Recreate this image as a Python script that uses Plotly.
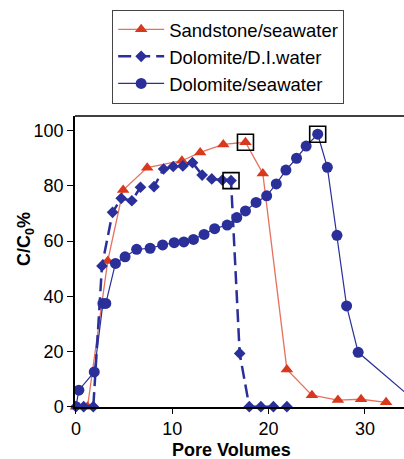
import plotly.graph_objects as go

# Sandstone / seawater
ss_x = [0.0, 1.2, 3.3, 4.9, 7.4, 11.0, 12.9, 15.3, 17.6, 19.4, 21.9, 24.5, 27.2, 29.6, 32.2]
ss_y = [0.0, 0.0, 52.8, 78.5, 86.6, 89.1, 92.1, 95.0, 95.8, 84.5, 13.5, 4.2, 2.4, 2.7, 1.6]

# Dolomite / D.I. water
di_x = [0.0, 0.8, 1.8, 2.7, 3.8, 4.7, 5.8, 6.7, 8.1, 9.1, 10.1, 11.1, 12.1, 13.1, 14.1, 15.2, 16.1,
        17.0, 18.0, 19.2, 20.5, 21.9]
di_y = [0.0, 0.0, 0.0, 51.0, 70.4, 75.5, 74.6, 79.5, 79.7, 86.1, 87.0, 87.2, 88.4, 83.9, 82.5, 82.1, 81.9,
        19.3, 0.0, 0.0, 0.0, 0.0]

# Dolomite / seawater
sw_x = [0.0, 0.3, 1.9, 2.8, 3.1, 4.1, 5.1, 6.3, 7.7, 9.0, 10.2, 11.2, 12.2, 13.3, 14.4, 15.7, 16.7,
        17.6, 18.7, 19.8, 20.8, 21.8, 22.9, 23.9, 25.1, 26.1, 27.1, 28.1, 29.3, 35.0]
sw_y = [0.0, 6.0, 12.6, 37.4, 37.4, 51.9, 54.3, 57.0, 57.4, 58.6, 59.4, 59.7, 60.6, 62.4, 64.5, 65.8, 68.5,
        70.9, 74.0, 76.4, 80.7, 85.7, 90.0, 94.4, 98.7, 86.7, 62.1, 36.5, 19.7, 2.7]

# highlighted (boxed) points: index into each series
box_ss = 8
box_di = 16
box_sw = 24

x_ticks = [0, 10, 20, 30]
y_ticks = [0, 20, 40, 60, 80, 100]

RED_M = "#D9381E"
RED_L = "#E8705E"
BLUE = "#2A2F9A"
FONT = "Liberation Sans, Arial, sans-serif"

fig = go.Figure()
fig.add_trace(go.Scatter(
    x=ss_x, y=ss_y, mode="lines+markers", name="Sandstone/seawater",
    line=dict(color=RED_L, width=1.3),
    marker=dict(symbol="triangle-up", size=11, color=RED_M),
    cliponaxis=False))
fig.add_trace(go.Scatter(
    x=di_x, y=di_y, mode="lines+markers", name="Dolomite/D.I.water",
    line=dict(color=BLUE, width=2.5, dash="13px,6px"),
    marker=dict(symbol="diamond", size=9, color=BLUE),
    cliponaxis=False))
fig.add_trace(go.Scatter(
    x=sw_x, y=sw_y, mode="lines+markers", name="Dolomite/seawater",
    line=dict(color=BLUE, width=1.2),
    marker=dict(symbol="circle", size=11, color=BLUE),
    cliponaxis=True))
fig.add_trace(go.Scatter(
    x=[ss_x[box_ss], di_x[box_di], sw_x[box_sw]],
    y=[ss_y[box_ss], di_y[box_di], sw_y[box_sw]],
    mode="markers", showlegend=False, hoverinfo="skip",
    marker=dict(symbol="square-open", size=16, color="black", line=dict(width=1.6, color="black")),
    cliponaxis=False))

fig.update_layout(
    width=404, height=459,
    margin=dict(l=75, r=0, t=116, b=52, autoexpand=False),
    paper_bgcolor="white", plot_bgcolor="white",
    font=dict(family=FONT, size=18, color="black"),
    showlegend=True,
    legend=dict(
        x=0.113, y=1.365, xanchor="left", yanchor="top",
        bordercolor="#444", borderwidth=1, bgcolor="white",
        font=dict(family=FONT, size=18.5, color="black"),
        itemwidth=46,
    ),
    xaxis=dict(
        range=[-0.1, 34.06], tickvals=x_ticks, ticks="outside", ticklen=5,
        tickcolor="black", showline=True, linecolor="black", linewidth=1.5,
        showgrid=False, zeroline=False, tickfont=dict(size=18),
    ),
    yaxis=dict(
        range=[-0.1, 105.3], tickvals=y_ticks, ticks="outside", ticklen=6,
        tickcolor="black", showline=True, linecolor="black", linewidth=1.5,
        showgrid=False, zeroline=False, tickfont=dict(size=18),
    ),
    shapes=[dict(type="line", xref="paper", yref="paper", x0=0, x1=1, y0=1, y1=1,
                 line=dict(color="black", width=1.5))],
    annotations=[
        dict(text="<b>Pore Volumes</b>", xref="paper", yref="paper", x=0.477, y=-0.148,
             xanchor="center", yanchor="middle", showarrow=False, font=dict(size=18)),
        dict(text="<b>C/C<sub>0</sub>%</b>", xref="paper", yref="paper", x=-0.152, y=0.577,
             xanchor="center", yanchor="middle", showarrow=False, textangle=-90,
             font=dict(size=18)),
    ],
)

fig.write_html("out.html", config={"displayModeBar": False},
               post_script="document.body.style.margin='0';document.body.style.overflow='hidden';")
